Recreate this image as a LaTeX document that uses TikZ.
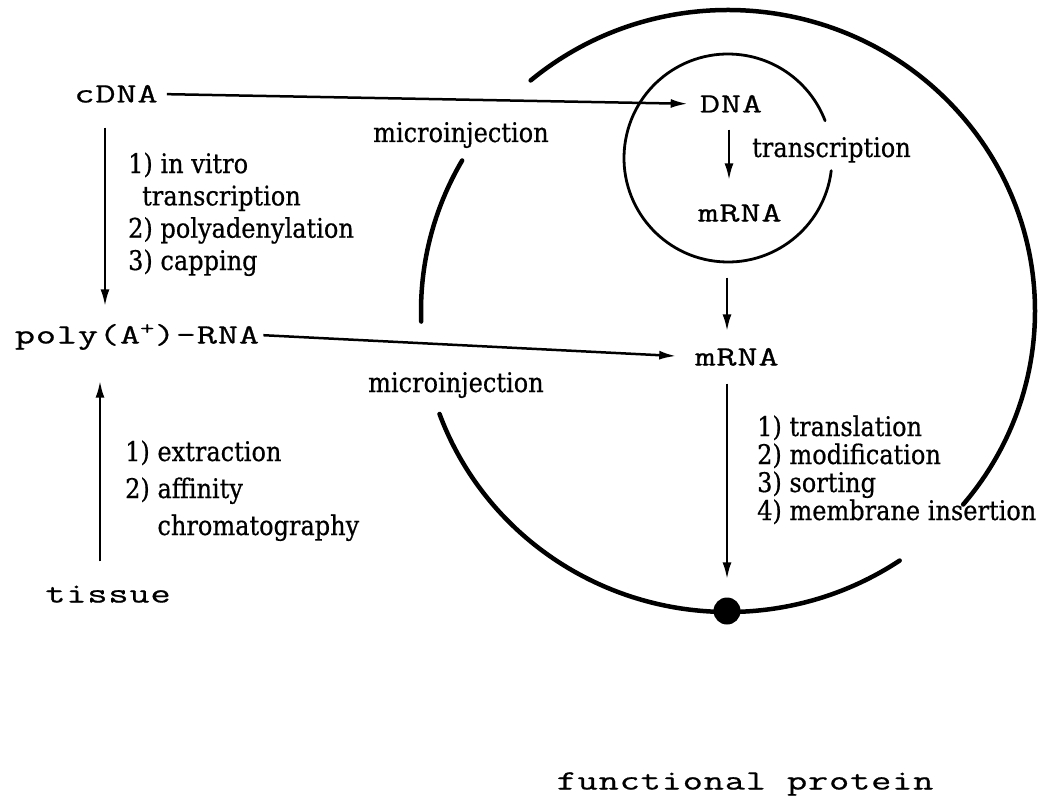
\documentclass[tikz,border=0pt]{standalone}
\usepackage{fontspec}
\usetikzlibrary{arrows.meta}
\newfontfamily\bigttf{Latin Modern Mono}[FakeStretch=1.4,LetterSpace=3,FakeBold=0.7]
\newfontfamily\labf{DejaVu Serif}[FakeStretch=0.89,FakeBold=0.6]
\newcommand\bigtt{\bigttf\fontsize{28}{30}\selectfont}
\begin{document}
\begin{tikzpicture}[x=1pt,y=-1pt,
  big/.style={font=\bigtt, inner sep=0pt, text height=17pt, text depth=0pt},
  lbl/.style={inner sep=0pt, align=left, anchor=base west},
  arr/.style={line width=2.5pt, -{Latex[length=17pt,width=9pt]}},
  cell/.style={line width=4.5pt, line cap=round},
  nuc/.style={line width=2.8pt, line cap=round}]
\useasboundingbox (0,0) rectangle (1040,805);

% main text nodes
\node[big] (cdna) at (116,94) {cDNA};
\node[big] (poly) at (137,335) {poly(A\textsuperscript{+})-RNA};
\node[big] (tissue) at (108,594) {tissue};
\node[big] (dna) at (731,104) {DNA};
\node[big] (mrnain) at (740,213) {mRNA};
\node[big] (mrnaout) at (737,357) {mRNA};
\node[big] (prot) at (745,781) {functional protein};
\node[circle, fill=black, inner sep=0pt, minimum size=27pt] (dot) at (727,611) {};

% labels (base anchor = baseline of last line)
\node[lbl, font={\labf\fontsize{27}{32.3}\selectfont}] (lab1) at (128,270)
  {1) in vitro\\\hspace*{14pt}transcription\\2) polyadenylation\\3) capping};
\node[lbl, font={\labf\fontsize{27}{37}\selectfont}] (lab2) at (125,535)
  {1) extraction\\2) affinity\\\phantom{2) }chromatography};
\node[lbl, font={\labf\fontsize{27}{28}\selectfont}] (lab3) at (757,520)
  {1) translation\\2) modification\\3) sorting\\4) membrane insertion};
\node[lbl, font={\labf\fontsize{27}{28}\selectfont}] (lab4) at (752,157) {transcription};
\node[lbl, font={\labf\fontsize{27}{28}\selectfont}] (mi1) at (373,142) {microinjection};
\node[lbl, font={\labf\fontsize{27}{28}\selectfont}] (mi2) at (368,392) {microinjection};

% cell membrane (ellipse arcs)
\draw[cell] (728,311) ++(-130:307 and 301) arc[start angle=-130, end angle=40, x radius=307, y radius=301];
\draw[cell] (728,311) ++(56:307 and 301) arc[start angle=56, end angle=160, x radius=307, y radius=301];
\draw[cell] (728,311) ++(178:307 and 301) arc[start angle=178, end angle=210, x radius=307, y radius=301];

% nucleus
\draw[nuc] (728,158) ++(7:104) arc[start angle=7, end angle=339, radius=104];

% connectors
\coordinate (lx) at (105,0);
\coordinate (lx2) at (100,0);
\coordinate (cx) at (729,0);
\coordinate (cx2) at (727,0);
\draw[arr, shorten <=9pt, shorten >=12pt] (cdna.east) -- (dna.west);
\draw[arr, shorten <=25pt, shorten >=20pt] (cdna.south -| lx) -- (poly.north -| lx);
\draw[arr, shorten <=24pt, shorten >=37pt] (tissue.north -| lx2) -- (poly.south -| lx2);
\draw[arr, shorten <=4pt, shorten >=19pt] (poly.east) -- (mrnaout.west);
\draw[arr, shorten <=17pt, shorten >=24pt] (dna.south -| cx) -- (mrnain.north -| cx);
\draw[arr, shorten <=56pt, shorten >=17pt] (mrnain.south -| cx2) -- (mrnaout.north -| cx2);
\draw[arr, shorten <=18pt, shorten >=18pt] (mrnaout.south -| cx2) -- (dot.north);
\end{tikzpicture}
\end{document}
